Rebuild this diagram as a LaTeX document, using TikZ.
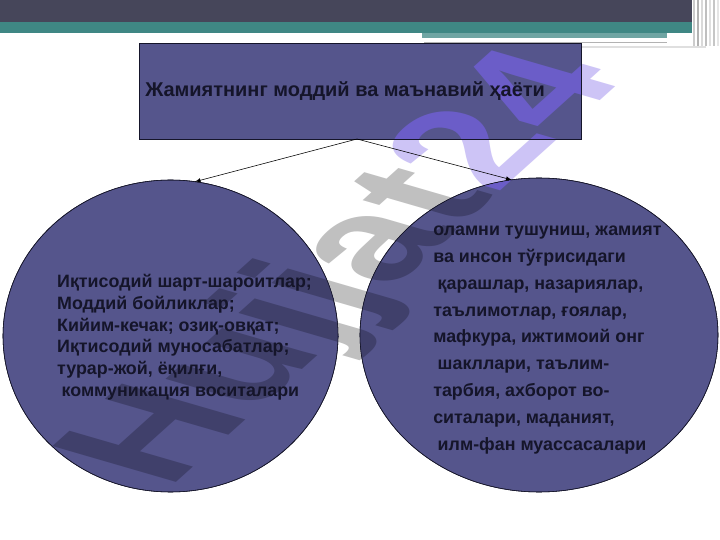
\documentclass[tikz,border=0pt]{standalone}
\usepackage{fontspec}
\setmainfont{Liberation Sans}
\usetikzlibrary{shapes.geometric,positioning}

\definecolor{slide}{HTML}{55558C}
\definecolor{ink}{HTML}{15152A}
\definecolor{barDark}{HTML}{46465A}
\definecolor{barTeal}{HTML}{3F8784}
\definecolor{wmGray}{HTML}{C0C0C0}
\definecolor{wmPurple}{HTML}{CDC4F6}
\definecolor{wmGrayIn}{HTML}{40406B}
\definecolor{wmPurpleIn}{HTML}{6B5DC8}

% watermark, drawn twice (on white and inside the shapes)
\newcommand{\wmark}[2]{%
  \node[anchor=base west, rotate=42, xslant=-0.62, inner sep=0pt,
        font=\fontsize{113}{113}\selectfont\bfseries] (wm) at (4.2,1.25)
        {\textcolor{#1}{Hujjat}\textcolor{#2}{24}};}

\begin{document}
\begin{tikzpicture}

\tikzstyle{oval}=[ellipse, draw=ink, line width=0.4pt, fill=slide,
    inner sep=0pt, outer sep=0pt]
\tikzstyle{box}=[rectangle, draw=ink, line width=0.4pt, fill=slide,
    inner sep=0pt, outer sep=0pt]
\tikzstyle{words}=[align=left, text=ink, inner sep=0pt, anchor=west]

  \useasboundingbox (0,0) rectangle (18,13.5);
  \fill[white] (0,0) rectangle (18,13.5);

% top bar
\fill[barDark] (0,13.5) rectangle (17.3,12.95);
\fill[barTeal] (0,12.95) rectangle (17.3,12.675);
\fill[barTeal!75] (10.55,12.675) rectangle (16.675,12.55);
\draw[white, line width=1pt] (10.6,12.5) -- (16.675,12.5);
\draw[gray!60, line width=0.6pt] (10.6,12.43) -- (16.675,12.43);
\draw[gray!25, line width=1pt] (14.5,12.33) -- (17.65,12.33);
\foreach \x/\c in {17.35/40,17.45/60,17.55/30,17.65/50,17.75/25,17.85/45,17.95/20}
  \draw[gray!\c, line width=1.2pt] (\x,13.5) -- (\x,12.35);

\wmark{wmGray}{wmPurple}

  \node[box, minimum width=11.05cm, minimum height=2.4cm] (life) at (9.0,11.225) {};
  \node[oval, minimum width=8.375cm, minimum height=7.8cm] (material) at (4.2625,5.1) {};
  \node[oval, minimum width=8.95cm, minimum height=7.85cm] (spiritual) at (13.475,5.125) {};

\begin{scope}
  \clip (life.south west) rectangle (life.north east)
        (material.center) ellipse [x radius=4.1875cm, y radius=3.9cm]
        (spiritual.center) ellipse [x radius=4.475cm, y radius=3.925cm];
  \wmark{wmGrayIn}{wmPurpleIn}
\end{scope}
\draw[ink, line width=0.4pt] (life.south west) rectangle (life.north east);
\draw[ink, line width=0.4pt] (material.center) ellipse [x radius=4.1875cm, y radius=3.9cm];
\draw[ink, line width=0.4pt] (spiritual.center) ellipse [x radius=4.475cm, y radius=3.925cm];

  \node[words, font=\bfseries\fontsize{14.2}{17}\selectfont] (lifetext)
      at ([xshift=0.15cm]life.west) {Жамиятнинг моддий ва маънавий ҳаёти};

  \node[words, font=\bfseries\fontsize{12.7}{15.4}\selectfont] (materialtext)
      at ([xshift=-2.84cm,yshift=-0.03cm]material.center)
      {Иқтисодий шарт-шароитлар;\\
       Моддий бойликлар;\\
       Кийим-кечак; озиқ-овқат;\\
       Иқтисодий муносабатлар;\\
       турар-жой, ёқилғи,\\
       \hspace{0.25em}коммуникация воситалари};

  \node[words, font=\bfseries\fontsize{12.7}{19.1}\selectfont] (spiritualtext)
      at ([xshift=-2.65cm,yshift=-0.125cm]spiritual.center)
      {оламни тушуниш, жамият\\
       ва инсон тўғрисидаги\\
       \hspace{0.25em}қарашлар, назариялар,\\
       таълимотлар, ғоялар,\\
       мафкура, ижтимоий онг\\
       \hspace{0.25em}шакллари, таълим-\\
       тарбия, ахборот во-\\
       ситалари, маданият,\\
       \hspace{0.25em}илм-фан муассасалари};

  \draw[->,>=latex, line width=0.4pt] ([xshift=-0.075cm]life.south) -- (material.81);
  \draw[->,>=latex, line width=0.4pt] ([xshift=-0.075cm]life.south) -- (spiritual.100);

\end{tikzpicture}
\end{document}
